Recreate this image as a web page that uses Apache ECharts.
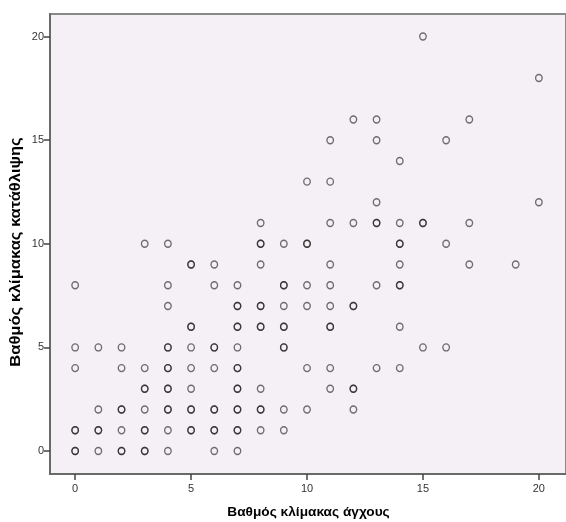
<!DOCTYPE html>
<html>
<head>
<meta charset="utf-8">
<script src="https://cdn.jsdelivr.net/npm/echarts@6/dist/echarts.min.js"></script>
<style>
html,body{margin:0;padding:0;background:#fff;}
#chart{width:566px;height:522px;}
</style>
</head>
<body>
<div id="chart"></div>
<script>
// Anxiety score (x) and depression score (y) for each respondent; repeated pairs = overlapping points
const anxiety = [
  15,
  20,
  12,13,17,
  11,13,16,
  14,
  10,11,
  13,20,
  8,11,12,13,13,14,15,15,17,
  3,4,8,8,9,10,10,14,14,16,
  5,5,6,8,11,14,17,19,
  0,4,6,7,9,9,10,11,13,14,14,
  4,7,7,8,8,9,10,11,12,12,
  5,5,7,7,8,8,9,9,11,11,14,
  0,1,2,4,4,5,6,6,7,9,9,15,16,
  0,2,3,4,4,5,6,7,7,10,11,13,14,
  3,3,4,4,5,7,7,8,11,12,12,
  1,2,2,3,4,4,5,5,6,6,7,7,8,8,9,10,12,
  0,0,1,1,2,3,3,4,5,5,6,6,7,7,8,9,
  0,0,1,2,2,3,3,4,6,7
];
const depression = [
  20,
  18,
  16,16,16,
  15,15,15,
  14,
  13,13,
  12,12,
  11,11,11,11,11,11,11,11,11,
  10,10,10,10,10,10,10,10,10,10,
  9,9,9,9,9,9,9,9,
  8,8,8,8,8,8,8,8,8,8,8,
  7,7,7,7,7,7,7,7,7,7,
  6,6,6,6,6,6,6,6,6,6,6,
  5,5,5,5,5,5,5,5,5,5,5,5,5,
  4,4,4,4,4,4,4,4,4,4,4,4,4,
  3,3,3,3,3,3,3,3,3,3,3,
  2,2,2,2,2,2,2,2,2,2,2,2,2,2,2,2,2,
  1,1,1,1,1,1,1,1,1,1,1,1,1,1,1,1,
  0,0,0,0,0,0,0,0,0,0
];
const tickValues = [0, 5, 10, 15, 20];
const xTitle = 'Βαθμός κλίμακας άγχους';
const yTitle = 'Βαθμός κλίμακας κατάθλιψης';

const points = anxiety.map((x, i) => [x, depression[i]]);
const chart = echarts.init(document.getElementById('chart'), null, {renderer: 'canvas'});
const font = "'Liberation Sans', Arial, sans-serif";
chart.setOption({
  animation: false,
  backgroundColor: '#ffffff',
  grid: {
    left: 50, top: 14, width: 519, height: 460,
    show: true, backgroundColor: '#f5f0f5', borderColor: '#8a8a8a', borderWidth: 2
  },
  xAxis: {
    type: 'value', min: -1.085, max: 21.17,
    splitLine: {show: false},
    axisLine: {show: true, onZero: false, lineStyle: {color: '#6a6a6a', width: 2}},
    axisTick: {show: true, customValues: tickValues, length: 6, lineStyle: {color: '#444', width: 1.5}},
    axisLabel: {customValues: tickValues, margin: 9, fontSize: 11, color: '#333', fontFamily: font}
  },
  yAxis: {
    type: 'value', min: -1.11, max: 21.09,
    splitLine: {show: false},
    axisLine: {show: true, onZero: false, lineStyle: {color: '#6a6a6a', width: 2}},
    axisTick: {show: true, customValues: tickValues, length: 6, lineStyle: {color: '#444', width: 1.5}},
    axisLabel: {customValues: tickValues, margin: 6, fontSize: 11, color: '#333', fontFamily: font}
  },
  graphic: [
    {type: 'text', x: 308.5, y: 513, scaleX: 1.14, style: {text: xTitle, font: 'bold 12px ' + font, fill: '#000', textAlign: 'center', textVerticalAlign: 'middle'}},
    {type: 'text', x: 16.5, y: 252, rotation: Math.PI / 2, scaleX: 1.18, style: {text: yTitle, font: 'bold 14px ' + font, fill: '#000', textAlign: 'center', textVerticalAlign: 'middle'}}
  ],
  series: [{
    type: 'scatter',
    data: points,
    symbol: 'circle',
    symbolSize: [6.5, 7],
    itemStyle: {color: 'rgba(0,0,0,0)', borderColor: 'rgba(20,20,20,0.6)', borderWidth: 1.4, opacity: 1},
    emphasis: {disabled: true}
  }]
});
</script>
</body>
</html>
